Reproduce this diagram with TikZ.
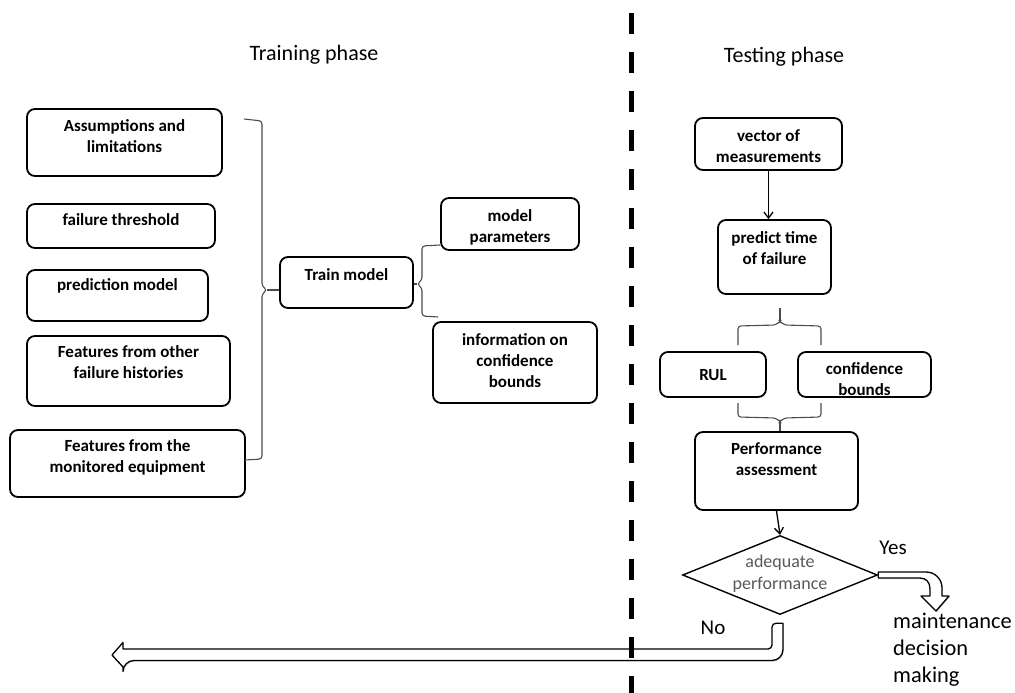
\documentclass[tikz,border=0pt]{standalone}
\usepackage{fontspec}
\setmainfont{Carlito}
\usetikzlibrary{calc,shapes.geometric,arrows.meta,shadows}

\tikzset{
  box/.style={draw, line width=1.8pt, rounded corners=8pt, inner sep=0pt},
  boxtxt/.style={font=\bfseries\fontsize{17}{21}\selectfont, align=center, inner sep=0pt},
  title/.style={font=\fontsize{22}{26}\selectfont, inner sep=0pt},
  lbl/.style={font=\fontsize{21}{24}\selectfont, inner sep=0pt},
  brk/.style={draw=black!70, line width=1.1pt, rounded corners=3pt},
  arr/.style={line width=1.3pt, -{Straight Barb[length=6pt,width=9pt]}},
  blockarrow/.style={draw, line width=1.3pt, fill=white, line join=round,
    drop shadow={shadow xshift=0.8pt, shadow yshift=-1.2pt, fill=black!35}},
}

\begin{document}
\begin{tikzpicture}[x=1pt,y=-1pt]
    \useasboundingbox (0,0) rectangle (1015,693);

    % Titles
    \node[title] (trainT) at (314,55) {Training phase};
    \node[title] (testT) at (784,57) {Testing phase};

    % Training inputs
    \node[box, minimum width=195, minimum height=67] (assum) at (124.5,142.5) {};
    \node[boxtxt] at (124.5,136.5) {Assumptions and\\limitations};
    \node[box, minimum width=188, minimum height=44] (fthr) at (121,226) {};
    \node[boxtxt] at (121,220) {failure threshold};
    \node[box, minimum width=181, minimum height=51] (pmod) at (117.5,295.5) {};
    \node[boxtxt] at (117.5,286) {prediction model};
    \node[box, minimum width=203, minimum height=70] (fhist) at (128.5,371) {};
    \node[boxtxt] at (128.5,362.5) {Features from other\\failure histories};
    \node[box, minimum width=235, minimum height=67] (fmon) at (127.5,463.5) {};
    \node[boxtxt] at (127.5,457.5) {Features from the\\monitored equipment};

    % Train model and its outputs
    \node[box, minimum width=133, minimum height=51] (train) at (346.5,282.5) {};
    \node[boxtxt] at (346.5,275) {Train model};
    \node[box, minimum width=138, minimum height=52] (mpar) at (510,224) {};
    \node[boxtxt] at (510,227.5) {model\\parameters};
    \node[box, minimum width=164, minimum height=81] (info) at (515,362.5) {};
    \node[boxtxt] at (515,361) {information on\\confidence\\bounds};

    % Braces of the training phase
    \coordinate (inTip) at (267,290);
    \draw[brk] (244,119) -- (262,121) -- (262,286) -- (inTip) -- (262,294) -- (262,459) -- (245,460);
    \draw[brk] (inTip) -- (inTip -| train.west);
    \coordinate (outTip) at (417,284);
    \draw[brk] (440,245) -- (422,246) -- (422,280) -- (outTip) -- (422,288) -- (422,316) -- (438,317);
    \draw[brk] (outTip) -- (outTip -| train.east);

    % Testing phase
    \node[box, minimum width=147, minimum height=52] (vec) at (768.5,144) {};
    \node[boxtxt] at (768.5,146) {vector of\\measurements};
    \node[box, minimum width=113, minimum height=74] (pred) at (774.5,257) {};
    \node[boxtxt] at (774.5,248) {predict time\\of failure};
    \node[box, minimum width=106, minimum height=45] (rul) at (713,374.5) {};
    \node[boxtxt] at (713,375) {RUL};
    \node[box, minimum width=133, minimum height=45] (conf) at (864.5,374.5) {};
    \node[boxtxt] at (864.5,379) {confidence\\bounds};
    \node[box, minimum width=163, minimum height=78] (perf) at (776.5,471) {};
    \node[boxtxt] at (776.5,459) {Performance\\assessment};
    \node[diamond, draw, line width=1.4pt, minimum width=195, minimum height=79, inner sep=0pt] (dec) at (780,575) {};
    \node[align=center, text=black!65, font=\fontsize{18}{22}\selectfont, inner sep=0pt] at (780,574) {adequate\\performance};

    \draw[arr] (vec.south) -- (vec.south |- pred.north);
    \draw[arr] (perf.south) -- (dec.north);

    % Braces of the testing phase
    \coordinate (tbTip) at (780,321);
    \draw[brk] (738,345) -- (738,326) -- (776,325) -- (tbTip) -- (784,325) -- (821,326) -- (821,345);
    \draw[brk] (tbTip) -- (780,308);
    \coordinate (bbTip) at (780,422);
    \draw[brk] (738,403) -- (738,417) -- (776,418) -- (bbTip) -- (784,418) -- (821,417) -- (821,403);
    \draw[brk] (bbTip) -- (bbTip |- perf.north);

    % Decision outcomes
    \node[lbl] (yes) at (893,548) {Yes};
    \node[lbl] (no) at (713,628) {No};
    \node[anchor=west, align=left, font=\fontsize{22.4}{27}\selectfont, inner sep=0pt] (maint) at (893,650) {maintenance\\decision\\making};

    \coordinate (yesTip) at (936,611);
    \draw[blockarrow] ($(dec.east)+(0,-3)$) -- (926,572) .. controls (935,572) and (942,579) .. (942,588)
        -- (942,596) -- (949,596) -- (yesTip) -- (921,596) -- (930,596) -- (930,589)
        .. controls (930,582) and (926,578) .. (920,578) -- ($(dec.east)+(0,3)$) -- cycle;

    \path (dec.south) ++(-2.5,8) coordinate (noTop);
    \coordinate (noEnd) at (112,655);
    \draw[blockarrow] (noEnd) -- ++(11,-12.5) -- ++(0,6.5) [rounded corners=4] -| ($(noTop)+(-5.5,0)$) [sharp corners] -- ($(noTop)+(5.5,0)$) [rounded corners=11] |- ($(noEnd)+(11,5.5)$) [sharp corners] -- ++(0,6.5) -- cycle;

    % Divider
    \coordinate (divTop) at (631,13);
    \coordinate (divBot) at (631,693);
    \draw[line width=5pt, dash pattern=on 21pt off 18pt] (divTop) -- (divBot);
\end{tikzpicture}
\end{document}
